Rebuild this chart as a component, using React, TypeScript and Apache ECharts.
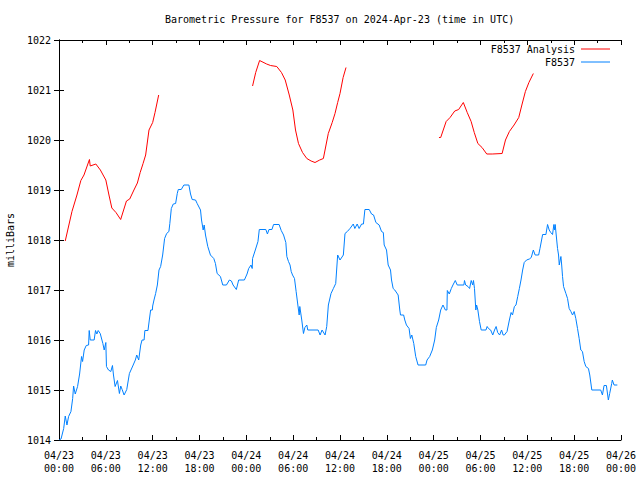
import React, { useEffect, useRef } from "react";
import * as echarts from "echarts";

const TITLE = "Barometric Pressure for F8537 on 2024-Apr-23 (time in UTC)";
const Y_NAME = "milliBars";
const ANALYSIS_NAME = "F8537 Analysis";
const OBS_NAME = "F8537";
const MONTH = "04";
const START_DAY = 23;
const Y_MIN = 1014;
const Y_MAX = 1022;
const X_MAX_HOURS = 72;

// hours since 04/23 00:00 UTC, pressure (mb)
const analysisSeg1: number[][] = [
  [0.8, 1017.98], [1.66, 1018.57], [2.3, 1018.9], [2.8, 1019.19], [3.2, 1019.3], [3.9, 1019.61],
  [4.0, 1019.48], [4.72, 1019.52], [5.3, 1019.4], [6.0, 1019.2], [6.4, 1018.9], [6.77, 1018.64],
  [7.3, 1018.55], [7.9, 1018.41], [8.64, 1018.78], [9.06, 1018.82], [9.6, 1019.0], [10.04, 1019.14],
  [10.4, 1019.35], [10.77, 1019.53], [11.1, 1019.7], [11.53, 1020.2], [12.0, 1020.35], [12.3, 1020.55],
  [12.77, 1020.9],
];
const analysisSeg2: number[][] = [
  [24.8, 1021.08], [25.2, 1021.35], [25.7, 1021.59], [26.6, 1021.52], [27.1, 1021.49], [27.9, 1021.47],
  [28.5, 1021.35], [28.98, 1021.2], [29.5, 1020.9], [29.96, 1020.6], [30.3, 1020.2], [30.68, 1019.93],
  [31.2, 1019.75], [31.75, 1019.63], [32.3, 1019.58], [32.8, 1019.55], [33.4, 1019.6], [33.87, 1019.63],
  [34.5, 1020.13], [35.0, 1020.35], [35.36, 1020.53], [35.7, 1020.75], [36.0, 1020.93], [36.4, 1021.25],
  [36.77, 1021.45],
];
const analysisSeg3: number[][] = [
  [48.68, 1020.05], [48.9, 1020.05], [49.6, 1020.37], [50.1, 1020.45], [50.7, 1020.58], [51.2, 1020.61],
  [51.8, 1020.75], [52.3, 1020.55], [52.8, 1020.37], [53.2, 1020.15], [53.66, 1019.93], [54.2, 1019.85],
  [54.8, 1019.72], [55.5, 1019.72], [56.77, 1019.73], [57.2, 1020.0], [57.7, 1020.17], [58.3, 1020.3],
  [58.9, 1020.45], [59.3, 1020.7], [59.75, 1020.97], [60.2, 1021.15], [60.77, 1021.33],
];

const observed: number[][] = [
  [0.0, 1014.0], [0.26, 1014.02], [0.6, 1014.23], [0.8, 1014.48], [1.02, 1014.3], [1.23, 1014.47],
  [1.53, 1014.57], [1.75, 1014.83], [1.87, 1015.08], [2.08, 1014.92], [2.38, 1015.07], [2.64, 1015.32],
  [2.89, 1015.67], [3.02, 1015.57], [3.23, 1015.8], [3.49, 1015.89], [3.79, 1015.9], [3.87, 1016.19],
  [4.0, 1016.0], [4.5, 1016.0], [4.68, 1016.19], [4.85, 1016.12], [5.02, 1016.19], [5.28, 1016.13],
  [5.62, 1015.93], [5.79, 1015.8], [6.0, 1015.95], [6.08, 1015.47], [6.34, 1015.4], [6.64, 1015.37],
  [6.85, 1015.49], [6.98, 1015.3], [7.19, 1015.07], [7.49, 1015.19], [7.74, 1014.93], [7.91, 1015.08],
  [8.09, 1015.01], [8.34, 1014.9], [8.68, 1015.01], [9.02, 1015.33], [9.45, 1015.48], [9.78, 1015.6],
  [9.96, 1015.7], [10.21, 1015.6], [10.47, 1015.9], [10.64, 1016.0], [10.9, 1016.0], [11.0, 1016.19],
  [11.4, 1016.19], [11.57, 1016.4], [11.74, 1016.6], [11.96, 1016.6], [12.0, 1016.68], [12.17, 1016.8],
  [12.38, 1016.93], [12.6, 1017.1], [12.81, 1017.4], [13.02, 1017.47], [13.28, 1017.7], [13.53, 1018.03],
  [13.79, 1018.13], [14.08, 1018.17], [14.2, 1018.33], [14.39, 1018.63], [14.64, 1018.72], [14.94, 1018.73],
  [15.15, 1018.93], [15.28, 1019.01], [15.66, 1019.01], [16.0, 1019.1], [16.64, 1019.1], [16.85, 1018.92],
  [17.06, 1018.81], [17.49, 1018.8], [17.7, 1018.73], [18.13, 1018.6], [18.26, 1018.4], [18.47, 1018.2],
  [18.6, 1018.3], [18.77, 1018.1], [19.06, 1017.87], [19.4, 1017.7], [19.83, 1017.63], [20.04, 1017.53],
  [20.26, 1017.33], [20.68, 1017.27], [20.98, 1017.1], [21.45, 1017.1], [21.83, 1017.2], [22.09, 1017.18],
  [22.3, 1017.1], [22.72, 1017.01], [23.02, 1017.2], [23.75, 1017.2], [24.09, 1017.32], [24.3, 1017.43],
  [24.6, 1017.5], [24.75, 1017.43], [24.8, 1017.63], [25.15, 1017.8], [25.49, 1017.97], [25.66, 1018.21],
  [26.5, 1018.21], [26.7, 1018.12], [26.9, 1018.21], [27.28, 1018.21], [27.49, 1018.31], [28.2, 1018.31],
  [28.47, 1018.19], [28.77, 1018.1], [29.06, 1017.95], [29.19, 1017.67], [29.4, 1017.57], [29.6, 1017.5],
  [29.75, 1017.37], [29.92, 1017.3], [30.17, 1017.23], [30.38, 1016.97], [30.6, 1016.7], [30.77, 1016.5],
  [30.85, 1016.67], [31.1, 1016.4], [31.32, 1016.13], [31.5, 1016.25], [31.75, 1016.3], [31.87, 1016.2],
  [33.2, 1016.2], [33.45, 1016.1], [33.7, 1016.2], [34.09, 1016.1], [34.3, 1016.27], [34.51, 1016.7],
  [34.85, 1016.93], [35.15, 1017.03], [35.45, 1017.13], [35.7, 1017.7], [36.0, 1017.6], [36.43, 1017.7],
  [36.64, 1018.13], [36.94, 1018.17], [37.28, 1018.23], [37.7, 1018.32], [37.9, 1018.23], [38.2, 1018.32],
  [38.45, 1018.23], [38.77, 1018.32], [39.0, 1018.32], [39.19, 1018.61], [39.74, 1018.61], [40.04, 1018.52],
  [40.3, 1018.5], [40.6, 1018.35], [41.02, 1018.3], [41.32, 1018.17], [41.55, 1018.15], [41.66, 1017.9],
  [41.96, 1017.8], [42.17, 1017.5], [42.47, 1017.4], [42.6, 1017.2], [42.81, 1017.03], [43.02, 1017.0],
  [43.45, 1016.9], [43.66, 1016.6], [43.75, 1016.5], [44.15, 1016.5], [44.3, 1016.4], [44.51, 1016.3],
  [44.85, 1016.23], [45.02, 1016.03], [45.2, 1016.1], [45.45, 1015.93], [45.7, 1015.67], [46.0, 1015.5],
  [46.98, 1015.5], [47.15, 1015.6], [47.49, 1015.67], [47.83, 1015.8], [48.13, 1016.0], [48.34, 1016.25],
  [48.64, 1016.4], [48.9, 1016.6], [49.19, 1016.7], [49.5, 1016.6], [49.7, 1016.6], [49.75, 1016.99],
  [50.0, 1016.92], [50.26, 1017.03], [50.47, 1017.1], [50.77, 1017.19], [51.02, 1017.1], [51.87, 1017.1],
  [51.95, 1017.19], [52.1, 1017.1], [52.4, 1017.07], [52.6, 1017.03], [52.81, 1017.19], [53.0, 1017.1],
  [53.1, 1017.19], [53.23, 1017.03], [53.4, 1016.6], [53.5, 1016.7], [53.66, 1016.6], [53.87, 1016.37],
  [54.09, 1016.2], [54.7, 1016.2], [54.85, 1016.27], [55.02, 1016.23], [55.3, 1016.2], [55.57, 1016.1],
  [55.8, 1016.2], [56.0, 1016.27], [56.2, 1016.15], [56.45, 1016.1], [56.7, 1016.2], [56.9, 1016.1],
  [57.06, 1016.1], [57.4, 1016.17], [57.7, 1016.4], [57.92, 1016.55], [58.1, 1016.5], [58.34, 1016.67],
  [58.55, 1016.7], [58.77, 1016.87], [58.98, 1017.03], [59.19, 1017.2], [59.4, 1017.4], [59.6, 1017.55],
  [59.9, 1017.6], [60.26, 1017.62], [60.5, 1017.65], [60.77, 1017.8], [61.0, 1017.7], [61.45, 1017.7],
  [61.62, 1017.83], [61.96, 1018.11], [62.38, 1018.11], [62.59, 1018.31], [62.8, 1018.2], [63.0, 1018.15],
  [63.23, 1018.11], [63.4, 1018.31], [63.5, 1018.2], [63.57, 1018.31], [63.7, 1018.1], [63.87, 1017.83],
  [64.0, 1017.7], [64.09, 1017.5], [64.3, 1017.67], [64.4, 1017.5], [64.51, 1017.27], [64.64, 1017.07],
  [64.94, 1016.93], [65.15, 1016.83], [65.36, 1016.63], [65.58, 1016.57], [65.79, 1016.5], [66.0, 1016.57],
  [66.21, 1016.43], [66.43, 1016.23], [66.64, 1016.03], [66.85, 1015.8], [67.06, 1015.77], [67.28, 1015.57],
  [67.49, 1015.47], [67.83, 1015.43], [68.0, 1015.3], [68.26, 1015.0], [69.4, 1015.0], [69.62, 1014.9],
  [69.83, 1015.09], [70.13, 1015.09], [70.38, 1014.8], [70.55, 1014.93], [70.81, 1015.13], [70.89, 1015.2],
  [71.11, 1015.1], [71.53, 1015.1],
];

const FONT = "DejaVu Sans Mono";
const RED = "#ff0000";
const BLUE = "#0080ff";

function fmtX(h: number): string {
  const day = START_DAY + Math.floor(h / 24);
  const hh = Math.round(h % 24);
  return `${MONTH}/${day}\n${String(hh).padStart(2, "0")}:00`;
}

export default function App() {
  const ref = useRef<HTMLDivElement>(null);
  useEffect(() => {
    if (!ref.current) return;
    const chart = echarts.init(ref.current, undefined, { renderer: "svg" });
    const analysisData: (number | null)[][] = [
      ...analysisSeg1,
      [18, null],
      ...analysisSeg2,
      [42, null],
      ...analysisSeg3,
    ];
    const axisLine = { show: true, lineStyle: { color: "#000", width: 1 } };
    const xCommon = {
      type: "value" as const,
      min: 0,
      max: X_MAX_HOURS,
      interval: 6,
      axisLine,
      splitLine: { show: false },
      axisTick: { show: true, inside: true, length: 5, lineStyle: { color: "#000" } },
      minorTick: { show: true, splitNumber: 2, length: 3, lineStyle: { color: "#000" } },
    };
    const yCommon = {
      type: "value" as const,
      min: Y_MIN,
      max: Y_MAX,
      interval: 1,
      axisLine,
      splitLine: { show: false },
      axisTick: { show: true, inside: true, length: 5, lineStyle: { color: "#000" } },
    };
    chart.setOption({
      animation: false,
      backgroundColor: "#fff",
      textStyle: { fontFamily: FONT },
      title: {
        text: TITLE,
        left: 165,
        top: 14,
        padding: 0,
        textStyle: { fontFamily: FONT, fontSize: 10, fontWeight: "normal", color: "#000" },
      },
      grid: { left: 59, right: 19, top: 40, bottom: 40, containLabel: false, outerBoundsMode: "none" },
      xAxis: [
        {
          ...xCommon,
          position: "bottom",
          axisLabel: {
            show: true,
            margin: 9,
            fontFamily: FONT,
            fontSize: 10,
            color: "#000",
            lineHeight: 13,
            formatter: (v: number) => fmtX(v),
          },
        },
        { ...xCommon, position: "top", axisLabel: { show: false } },
      ],
      yAxis: [
        {
          ...yCommon,
          position: "left",
          name: Y_NAME,
          nameLocation: "middle",
          nameGap: 44,
          nameTextStyle: { fontFamily: FONT, fontSize: 10, color: "#000" },
          axisLabel: {
            show: true,
            margin: 8,
            fontFamily: FONT,
            fontSize: 10,
            color: "#000",
            formatter: (v: number) => String(v),
          },
        },
        { ...yCommon, position: "right", axisLabel: { show: false } },
      ],
      series: [
        {
          name: OBS_NAME,
          type: "line",
          data: observed,
          showSymbol: false,
          symbol: "none",
          lineStyle: { color: BLUE, width: 1 },
          itemStyle: { color: BLUE },
          silent: true,
        },
        {
          name: ANALYSIS_NAME,
          type: "line",
          data: analysisData,
          connectNulls: false,
          showSymbol: false,
          symbol: "none",
          lineStyle: { color: RED, width: 1 },
          itemStyle: { color: RED },
          silent: true,
        },
      ],
      graphic: [
        {
          type: "text",
          x: 575,
          y: 49,
          style: { text: ANALYSIS_NAME, fill: "#000", font: `10px '${FONT}'`, textAlign: "right", textVerticalAlign: "middle" },
        },
        { type: "line", shape: { x1: 581, y1: 49, x2: 610, y2: 49 }, style: { stroke: RED, lineWidth: 1 } },
        {
          type: "text",
          x: 575,
          y: 62,
          style: { text: OBS_NAME, fill: "#000", font: `10px '${FONT}'`, textAlign: "right", textVerticalAlign: "middle" },
        },
        { type: "line", shape: { x1: 581, y1: 62, x2: 610, y2: 62 }, style: { stroke: BLUE, lineWidth: 1 } },
      ],
    });
    return () => chart.dispose();
  }, []);
  return <div ref={ref} style={{ position: "absolute", left: 0, top: 0, width: 640, height: 480 }} />;
}
